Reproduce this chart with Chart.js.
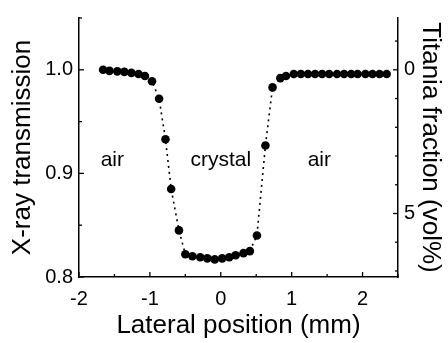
<!DOCTYPE html>
<html>
<head>
<meta charset="utf-8">
<script src="https://cdn.jsdelivr.net/npm/chart.js@4/dist/chart.umd.min.js"></script>
<style>
  html, body { margin: 0; padding: 0; background: #fff; }
  #wrap { width: 448px; height: 343px; }
</style>
</head>
<body>
<div id="wrap"><canvas id="myChart" width="448" height="343"></canvas></div>
<script>
// lateral position (mm) and x-ray transmission
const positions = [-1.66, -1.57, -1.46, -1.36, -1.26, -1.16, -1.07, -0.97, -0.87, -0.78,
    -0.70, -0.59, -0.50, -0.40, -0.29, -0.19, -0.085, 0.02, 0.12, 0.21,
    0.32, 0.41, 0.51, 0.63, 0.73, 0.84, 0.92, 1.03, 1.13, 1.23,
    1.33, 1.43, 1.53, 1.64, 1.74, 1.84, 1.93, 2.04, 2.14, 2.24, 2.34]
const transmission = [1.000, 0.999, 0.9985, 0.998, 0.997, 0.996, 0.994, 0.989, 0.972, 0.933,
    0.885, 0.845, 0.822, 0.820, 0.819, 0.818, 0.817, 0.818, 0.819, 0.821,
    0.823, 0.825, 0.840, 0.927, 0.983, 0.992, 0.994, 0.996, 0.996, 0.996,
    0.996, 0.996, 0.996, 0.996, 0.996, 0.996, 0.996, 0.996, 0.996, 0.996, 0.996]

const xTickLabels = ['-2', '-1', '0', '1', '2']
const yTickLabels = ['0.8', '0.9', '1.0']
const y2TickLabels = ['0', '5']

const regionNames = ['air', 'crystal', 'air']
const regionX = [-1.53, 0, 1.39]
const regionY = [0.913, 0.913, 0.913]

// 1 vol% titania corresponds to this drop in transmission
const volStep = 0.02774

const FONT = "'Liberation Sans', Arial, sans-serif"

let pts = []
for (let i = 0; i < positions.length; i++) {
    pts.push({ x: positions[i], y: transmission[i] })
}

function near(v, list) {
    for (let s of list) {
        if (Math.abs(parseFloat(s) - v) < 1e-6) return s
    }
    return ''
}

// ticks point into the plot, like the original
const inwardTicks = {
    id: 'inwardTicks',
    afterDraw(chart) {
        const ctx = chart.ctx
        const area = chart.chartArea
        ctx.save()
        ctx.strokeStyle = '#000'
        ctx.lineWidth = 1.3
        const sx = chart.scales.x
        sx.ticks.forEach(t => {
            const px = sx.getPixelForValue(t.value)
            const len = near(t.value, xTickLabels) ? 5 : 3
            ctx.beginPath()
            ctx.moveTo(px, area.bottom)
            ctx.lineTo(px, area.bottom - len)
            ctx.stroke()
        })
        const sy = chart.scales.y
        sy.ticks.forEach(t => {
            const py = sy.getPixelForValue(t.value)
            const len = near(t.value, yTickLabels) ? 5 : 3
            ctx.beginPath()
            ctx.moveTo(area.left, py)
            ctx.lineTo(area.left + len, py)
            ctx.stroke()
        })
        const sy2 = chart.scales.y2
        sy2.ticks.forEach(t => {
            const py = sy2.getPixelForValue(t.value)
            const len = near(t.value, y2TickLabels) ? 5 : 3
            ctx.beginPath()
            ctx.moveTo(area.right, py)
            ctx.lineTo(area.right - len, py)
            ctx.stroke()
        })
        // region labels
        ctx.fillStyle = '#000'
        ctx.font = '21px ' + FONT
        ctx.textAlign = 'center'
        ctx.textBaseline = 'middle'
        for (let i = 0; i < regionNames.length; i++) {
            ctx.fillText(regionNames[i], sx.getPixelForValue(regionX[i]), sy.getPixelForValue(regionY[i]))
        }
        ctx.restore()
    }
}

const plainGrid = { display: true, drawOnChartArea: false, drawTicks: false }
const axisBorder = { display: true, color: '#000', width: 1.5 }

let TransmissionChart = new Chart('myChart', {
    type: 'scatter',
    data: {
        datasets: [{
            data: pts,
            showLine: true,
            borderColor: '#000',
            borderWidth: 1.6,
            borderDash: [2, 4],
            pointRadius: 4.3,
            pointBackgroundColor: '#000',
            pointBorderColor: '#000',
            pointBorderWidth: 0,
            yAxisID: 'y'
        }]
    },
    plugins: [inwardTicks],
    options: {
        responsive: false,
        animation: false,
        layout: { padding: { top: 12, left: 0, right: 0, bottom: 0 } },
        plugins: { legend: { display: false }, tooltip: { enabled: false } },
        scales: {
            x: {
                type: 'linear',
                min: -2,
                max: 2.5,
                grid: plainGrid,
                border: axisBorder,
                afterFit: s => { s.height = 66 },
                afterBuildTicks: s => {
                    s.ticks = []
                    for (let v = -2; v <= 2.5001; v += 0.5) s.ticks.push({ value: Math.round(v * 10) / 10 })
                },
                ticks: {
                    color: '#000',
                    padding: 10,
                    maxRotation: 0,
                    autoSkip: false,
                    font: { family: FONT, size: 20 },
                    callback: v => near(v, xTickLabels)
                },
                title: {
                    display: true,
                    text: 'Lateral position (mm)',
                    color: '#000',
                    font: { family: FONT, size: 26 },
                    padding: { top: 0, bottom: 2 }
                }
            },
            y: {
                type: 'linear',
                position: 'left',
                min: 0.8,
                max: 1.05,
                grid: plainGrid,
                border: axisBorder,
                afterFit: s => { s.width = 79 },
                afterBuildTicks: s => {
                    s.ticks = []
                    for (let v = 0.8; v <= 1.0501; v += 0.05) s.ticks.push({ value: Math.round(v * 100) / 100 })
                },
                ticks: {
                    color: '#000',
                    padding: 6,
                    autoSkip: false,
                    font: { family: FONT, size: 20 },
                    callback: v => near(v, yTickLabels)
                },
                title: {
                    display: true,
                    text: 'X-ray transmission',
                    color: '#000',
                    font: { family: FONT, size: 26 },
                    padding: { top: 7, bottom: 0 }
                }
            },
            y2: {
                type: 'linear',
                position: 'right',
                reverse: true,
                min: -(1.05 - 1.0) / volStep,
                max: (1.0 - 0.8) / volStep,
                grid: plainGrid,
                border: axisBorder,
                afterFit: s => { s.width = 50 },
                afterBuildTicks: s => {
                    s.ticks = []
                    for (let v = -1; v <= 7; v++) s.ticks.push({ value: v })
                },
                ticks: {
                    color: '#000',
                    padding: 6,
                    autoSkip: false,
                    font: { family: FONT, size: 20 },
                    callback: v => near(v, y2TickLabels)
                },
                title: {
                    display: true,
                    text: 'Titania fraction (vol%)',
                    color: '#000',
                    font: { family: FONT, size: 26 },
                    padding: { top: 2, bottom: 0 }
                }
            }
        }
    }
});
</script>
</body>
</html>
